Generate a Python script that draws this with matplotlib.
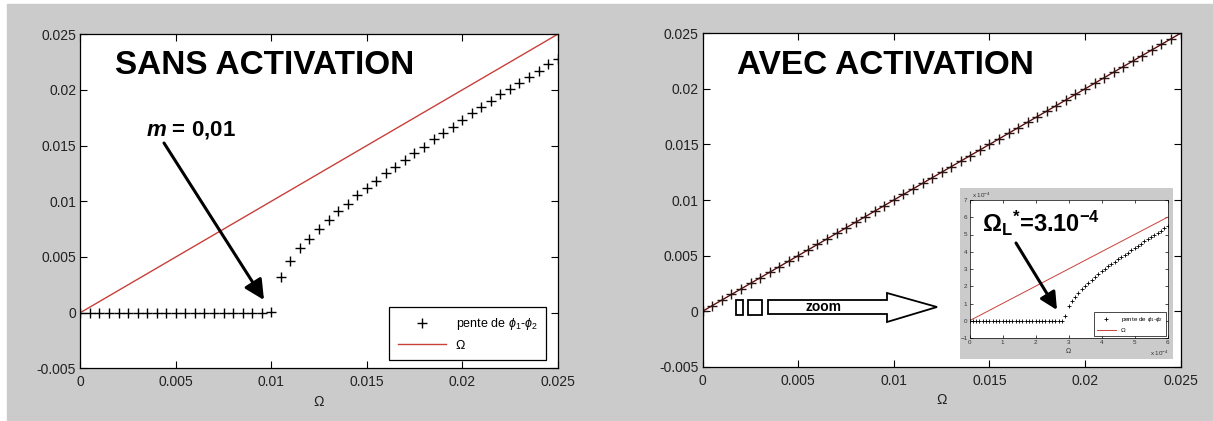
import numpy as np
import matplotlib
matplotlib.use("Agg")
import matplotlib.pyplot as plt
from matplotlib.patches import Polygon, Rectangle

plt.rcParams['font.family'] = ['Liberation Sans', 'DejaVu Sans']
plt.rcParams['mathtext.fontset'] = 'custom'
plt.rcParams['mathtext.rm'] = 'Liberation Sans'
plt.rcParams['mathtext.it'] = 'Liberation Sans:italic'
plt.rcParams['mathtext.bf'] = 'Liberation Sans:bold'
plt.rcParams['mathtext.sf'] = 'Liberation Sans:bold:italic'

# Omega sweep (x 1e-3), shared by both main panels
omega = [0.0, 0.5, 1.0, 1.5, 2.0, 2.5, 3.0, 3.5, 4.0, 4.5, 5.0, 5.5, 6.0, 6.5,
         7.0, 7.5, 8.0, 8.5, 9.0, 9.5, 10.0, 10.5, 11.0, 11.5, 12.0, 12.5,
         13.0, 13.5, 14.0, 14.5, 15.0, 15.5, 16.0, 16.5, 17.0, 17.5, 18.0,
         18.5, 19.0, 19.5, 20.0, 20.5, 21.0, 21.5, 22.0, 22.5, 23.0, 23.5,
         24.0, 24.5, 25.0]

# slope of phi1-phi2 without activation (x 1e-3)
pente_sans = [0, 0, 0, 0, 0, 0, 0, 0, 0, 0, 0, 0, 0, 0, 0, 0, 0, 0, 0, 0,
              0.1, 3.2, 4.6, 5.8, 6.6, 7.5, 8.3, 9.1, 9.8, 10.6, 11.2,
              11.8, 12.5, 13.1, 13.7, 14.3, 14.9, 15.6, 16.1, 16.7, 17.3,
              17.9, 18.5, 19.0, 19.6, 20.1, 20.6, 21.2, 21.7, 22.3, 22.8]

# with activation the slope follows Omega
pente_avec = [0.0, 0.5, 1.0, 1.5, 2.0, 2.5, 3.0, 3.5, 4.0, 4.5, 5.0, 5.5,
              6.0, 6.5, 7.0, 7.5, 8.0, 8.5, 9.0, 9.5, 10.0, 10.5, 11.0,
              11.5, 12.0, 12.5, 13.0, 13.5, 14.0, 14.5, 15.0, 15.5, 16.0,
              16.5, 17.0, 17.5, 18.0, 18.5, 19.0, 19.5, 20.0, 20.5, 21.0,
              21.5, 22.0, 22.5, 23.0, 23.5, 24.0, 24.5, 25.0]

# zoom inset (x 1e-4)
omega_zoom = [0.0, 0.1, 0.2, 0.3, 0.4, 0.5, 0.6, 0.7, 0.8, 0.9, 1.0, 1.1,
              1.2, 1.3, 1.4, 1.5, 1.6, 1.7, 1.8, 1.9, 2.0, 2.1, 2.2, 2.3,
              2.4, 2.5, 2.6, 2.7, 2.8, 2.9, 3.0, 3.1, 3.2, 3.3, 3.4, 3.5,
              3.6, 3.7, 3.8, 3.9, 4.0, 4.1, 4.2, 4.3, 4.4, 4.5, 4.6, 4.7,
              4.8, 4.9, 5.0, 5.1, 5.2, 5.3, 5.4, 5.5, 5.6, 5.7, 5.8, 5.9, 6.0]
pente_zoom = [0, 0, 0, 0, 0, 0, 0, 0, 0, 0, 0, 0, 0, 0, 0, 0, 0, 0, 0, 0,
              0, 0, 0, 0, 0, 0, 0, 0, 0, 0.25, 0.85, 1.15, 1.4, 1.62, 1.83,
              2.02, 2.2, 2.38, 2.55, 2.72, 2.88, 3.02, 3.16, 3.3, 3.43, 3.56,
              3.69, 3.82, 3.95, 4.08, 4.21, 4.34, 4.47, 4.6, 4.72, 4.85,
              4.97, 5.1, 5.23, 5.36, 5.5]

x = np.array(omega) * 1e-3
y_sans = np.array(pente_sans) * 1e-3
y_avec = np.array(pente_avec) * 1e-3

W, H = 1213, 421
RED = '#c8403a'
GRAY = '#cbcbcb'


def fr(x0, y0, x1, y1):
    return [x0 / W, 1 - y1 / H, (x1 - x0) / W, (y1 - y0) / H]


fig = plt.figure(figsize=(W / 100, H / 100), dpi=100)
fig.patches.append(Rectangle((7 / W, 0), 1, 1 - 4 / H, transform=fig.transFigure,
                             color=GRAY, zorder=-5))


def style(ax, ticksize=10):
    ax.set_xlim(0, 0.025)
    ax.set_ylim(-0.005, 0.025)
    ax.set_xticks([0, 0.005, 0.01, 0.015, 0.02, 0.025])
    ax.set_xticklabels(['0', '0.005', '0.01', '0.015', '0.02', '0.025'])
    ax.set_yticks([-0.005, 0, 0.005, 0.01, 0.015, 0.02, 0.025])
    ax.set_yticklabels(['-0.005', '0', '0.005', '0.01', '0.015', '0.02', '0.025'])
    ax.tick_params(direction='in', top=True, right=True, length=5, width=0.8,
                   labelsize=ticksize, labelcolor='#222222')
    ax.tick_params(axis='x', pad=5)
    ax.tick_params(axis='y', pad=3)
    ax.set_xlabel('Ω', fontsize=10, labelpad=4, color='#222222')
    for s in ax.spines.values():
        s.set_linewidth(0.9)


# ---- left: sans activation
ax1 = fig.add_axes(fr(80.4, 34.3, 557.6, 368.3))
ax1.plot(x, y_sans, '+', color='black', ms=6.5, mew=1.0, label='pente de $\\phi_1$-$\\phi_2$')
ax1.plot(x, x, color=RED, lw=1.0, label='Ω')
style(ax1)
leg = ax1.legend(loc='lower right', bbox_to_anchor=(0.976, 0.024), fontsize=9,
                 fancybox=False, edgecolor='black', framealpha=1, borderpad=0.7,
                 handlelength=3.8, labelspacing=0.6, borderaxespad=0)
leg.get_frame().set_linewidth(0.9)

fig.text(115 / W, 1 - 65 / H, 'SANS ACTIVATION', fontsize=24, fontweight='bold', va='center')
fig.text(146 / W, 1 - 130 / H, '$\\mathsf{m}$ = 0,01', fontsize=16, fontweight='bold', va='center')
ax1.annotate('', xy=(264, H - 300), xycoords='figure pixels',
             xytext=(164, H - 143), textcoords='figure pixels',
             arrowprops=dict(arrowstyle='-|>,head_length=0.8,head_width=0.4', lw=2.2,
                             color='black', shrinkA=0, shrinkB=0, mutation_scale=15))

# ---- right: avec activation
ax2 = fig.add_axes(fr(702.8, 33.3, 1180.5, 366.7))
ax2.plot(x, x, color=RED, lw=1.0)
ax2.plot(x, y_avec, '+-', color='#2a1414', ms=7, mew=1.0, lw=0.6)
style(ax2)

fig.text(737 / W, 1 - 65 / H, 'AVEC ACTIVATION', fontsize=24, fontweight='bold', va='center')


# zoom arrow and small boxes
def pts(seq):
    return [(px / W, 1 - py / H) for px, py in seq]


for shape in ([(736, 300), (743, 300), (743, 315), (736, 315)],
              [(748, 300), (762, 300), (762, 315), (748, 315)],
              [(768, 300), (887, 300), (887, 293), (937, 307), (887, 322),
               (887, 314), (768, 314)]):
    ax2.add_patch(Polygon(pts(shape), closed=True, transform=fig.transFigure,
                          facecolor='white', edgecolor='black', lw=1.3, clip_on=False, zorder=5))
fig.text(824 / W, 1 - 307 / H, 'zoom', fontsize=10, fontweight='bold', ha='center',
         va='center', zorder=6)

# ---- inset
bg = fig.add_axes(fr(959.7, 188, 1172.7, 359))
bg.set_facecolor(GRAY)
bg.set_xticks([])
bg.set_yticks([])
for s in bg.spines.values():
    s.set_visible(False)
bg.set_zorder(3)

ins = fig.add_axes(fr(969.5, 200, 1167.5, 338))
ins.set_zorder(4)
ins.plot(omega_zoom, omega_zoom, color=RED, lw=0.7, label='Ω')
ins.plot(omega_zoom, pente_zoom, '+', color='black', ms=3.5, mew=0.6,
         label='pente de $\\phi_1$-$\\phi_2$')
ins.set_xlim(0, 6)
ins.set_ylim(-1, 7)
ins.set_xticks(range(0, 7))
ins.set_yticks(range(-1, 8))
ins.tick_params(direction='in', top=True, right=True, length=2.5, width=0.5,
                labelsize=4.5, pad=1.5, labelcolor='#333333')
for s in ins.spines.values():
    s.set_linewidth(0.5)
ins.set_xlabel('Ω', fontsize=5, labelpad=2, color='#333333')
h, l = ins.get_legend_handles_labels()
lg = ins.legend(h[::-1], l[::-1], loc='lower right', fontsize=4.5, fancybox=False,
                edgecolor='black', framealpha=1, borderpad=0.5, handlelength=3,
                labelspacing=0.5, borderaxespad=0.3)
lg.get_frame().set_linewidth(0.5)
fig.text(972 / W, 1 - 195 / H, 'x 10$^{-4}$', fontsize=4.5, va='center', color='#333333', zorder=6)
fig.text(1150 / W, 1 - 353 / H, 'x 10$^{-4}$', fontsize=4.5, va='center', color='#333333', zorder=6)

fig.text(982 / W, 1 - 223 / H, 'Ω$_\\mathbf{L}$$^\\mathbf{*}$=3.10$^\\mathbf{-4}$',
         fontsize=17, fontweight='bold', va='center', zorder=7)
ins.annotate('', xy=(1057, H - 310), xycoords='figure pixels',
             xytext=(1016, H - 243), textcoords='figure pixels', annotation_clip=False,
             arrowprops=dict(arrowstyle='-|>,head_length=0.8,head_width=0.4', lw=2.2,
                             color='black', shrinkA=0, shrinkB=0, mutation_scale=13))

fig.savefig('out.png', dpi=100)
